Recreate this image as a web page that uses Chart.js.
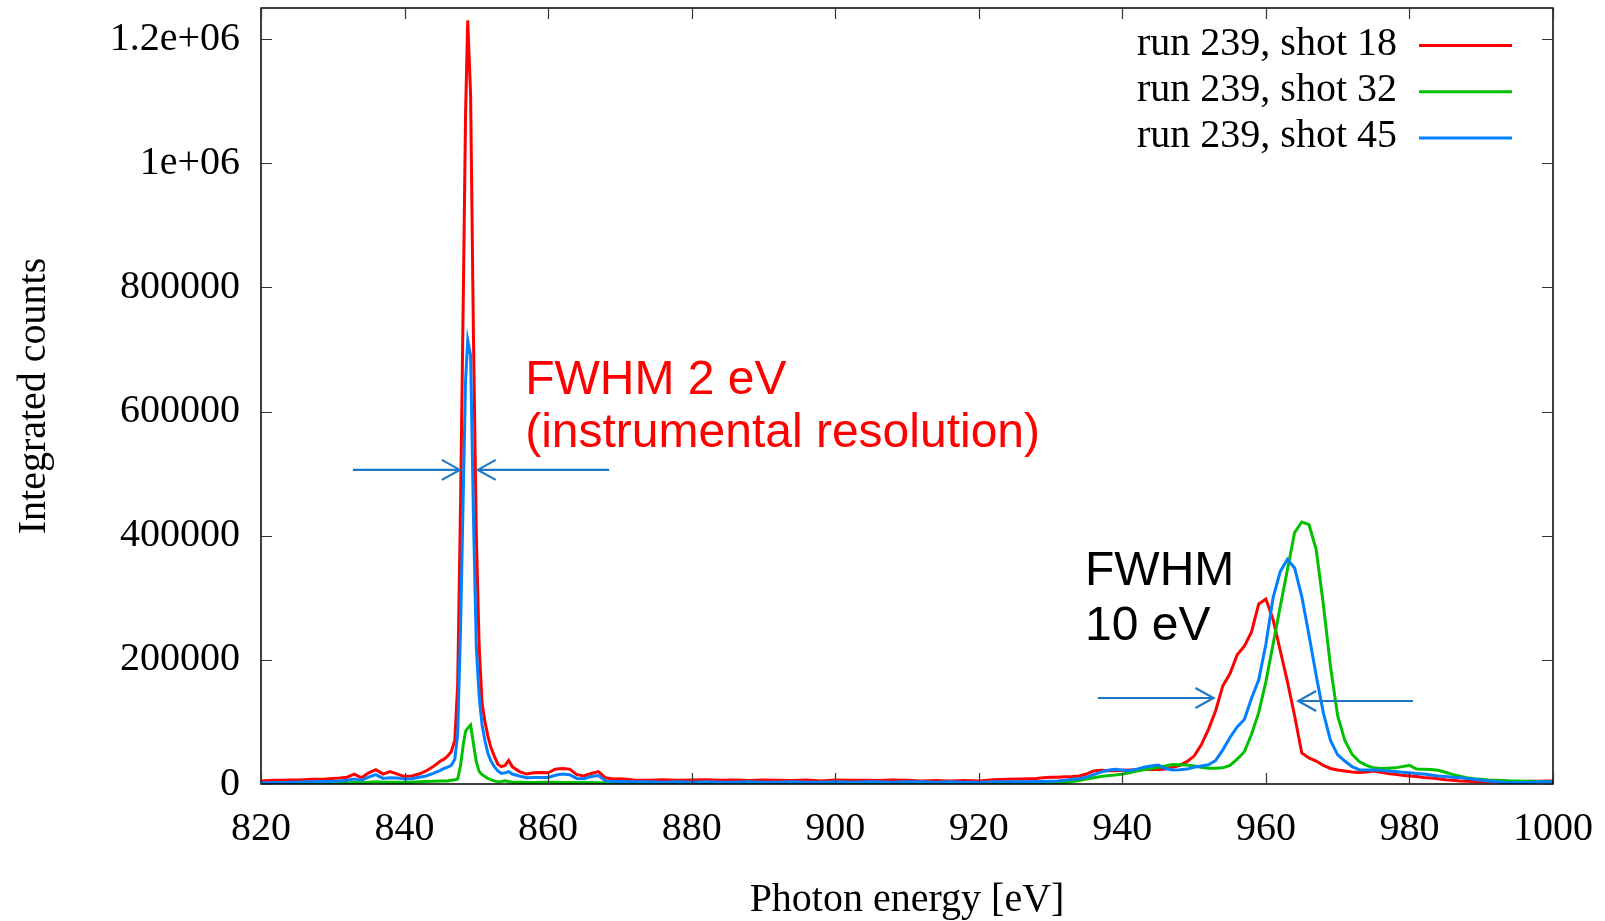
<!DOCTYPE html>
<html><head><meta charset="utf-8">
<script src="https://cdn.jsdelivr.net/npm/chart.js@4.4.1/dist/chart.umd.min.js"></script>
<style>html,body{margin:0;padding:0;background:#fff;overflow:hidden}#wrap{width:1605px;height:921px;position:relative}</style>
</head><body><div id="wrap"><canvas id="c" width="1605" height="921"></canvas></div>
<script>
// ---- data ----
const energy = [
  820,821,822,823,824,825,826,827,828,829,830,831,832,833,834,835,836,837,838,839,840,841,842,843,844,
  845,845.5,846,846.5,847,847.4,847.8,848.2,848.5,848.8,849.2,849.6,850,850.4,850.8,851.2,851.6,852,852.5,853,853.5,854,854.5,855,
  856,857,858,859,860,861,862,863,864,865,866,867,868,869,870,
  872,874,876,878,880,882,884,886,888,890,892,894,896,898,900,902,904,906,908,910,912,914,916,918,920,922,924,926,928,
  929,930,931,932,933,934,935,936,937,938,939,940,941,942,943,944,945,946,947,948,949,950,951,952,953,954,955,956,957,958,959,
  960,961,962,963,964,965,966,967,968,969,970,971,972,973,974,975,976,977,978,979,980,981,982,983,984,985,986,987,988,989,990,
  991,992,993,994,995,996,997,998,999,1000
];
const shot18 = [
  5000,5500,6000,6000,6500,6500,7000,7500,7500,8000,9000,9500,11000,16000,10000,18000,23000,16000,20000,16000,12000,13000,16000,21000,28000,
  37000,40000,45000,52000,70000,160000,450000,800000,1080000,1230000,1110000,720000,400000,220000,130000,100000,78000,60000,45000,32000,28000,30000,38000,28000,
  20000,16000,18000,18500,18000,24000,25000,24000,15000,13000,17000,20000,10000,8000,8500,
  6500,6000,7000,6000,6500,7000,6000,6500,5500,6500,6000,5500,6500,5000,6500,6000,6000,5500,6500,6000,5000,5500,5000,5500,5000,7000,7500,8000,9000,
  10000,10800,11000,11500,12000,13000,16000,21000,22000,21500,21500,22000,22500,23000,23700,23500,23500,24000,27000,30000,36000,45000,63000,88000,118000,158000,178000,208000,222000,245000,290000,
  298000,265000,215000,165000,110000,50000,42000,37000,30000,25000,22500,21000,19500,18500,19500,21000,19000,17000,15500,14000,13000,12000,10500,9500,8500,7000,6000,5000,4500,4000,3700,
  3500,3500,3500,4000,4000,4000,4500,4500,5000,5000
];
const shot32 = [
  500,500,1000,1000,1000,1000,1500,1500,1500,1500,2000,2000,2000,2500,2000,3000,3500,3000,3000,3000,2500,3000,3500,4000,4500,
  5000,5000,5000,6000,7000,8000,30000,65000,85000,90000,95000,65000,35000,20000,15000,12000,9000,7000,5000,3500,4000,5000,4000,3000,
  3000,2500,2500,2700,3000,3000,2500,2500,2500,2500,2500,2000,2000,2000,2000,
  2000,2000,1500,2000,1500,2000,1500,1500,2000,1500,1500,2000,1500,1500,2000,1500,2000,2000,1500,2000,2000,2000,2000,2000,2000,2000,2000,2000,2000,
  2000,2000,2500,3000,4000,5500,8000,10000,12000,13500,14500,16000,18000,21000,23000,25000,27000,29000,31500,31000,30500,29000,27000,25300,25500,26000,30000,40000,52000,80000,115000,
  165000,225000,286000,345000,405000,422000,418000,378000,290000,189000,110000,70000,48000,36000,30000,26000,25000,25500,26000,28000,30000,24000,23700,23500,22000,19000,15500,12500,10000,8500,7500,
  6500,6000,5500,5000,5000,4500,4500,4000,3700,3500
];
const shot45 = [
  2000,2000,2500,2500,3000,3000,3500,3500,4000,4000,4500,5000,6000,8000,6000,11000,15000,9000,10000,9500,8000,8500,11000,13000,17000,
  22000,25000,27000,30000,40000,80000,250000,480000,650000,715000,690000,430000,220000,140000,95000,70000,50000,38000,28000,21000,17000,18000,20000,16000,
  13000,10000,10500,10500,10500,14000,16000,15000,9000,8500,12000,13500,5000,4000,4000,
  3500,3500,3000,3500,3000,3500,3000,3000,3500,3000,3000,3500,3000,3000,3500,3000,3500,3500,3000,3500,3500,3000,3500,3000,3000,3500,3500,3500,4000,
  4000,4500,5000,6000,7500,8500,11000,15000,19000,22000,23700,22500,21500,24000,27000,29000,30600,25000,22500,23000,24000,27000,29000,31000,38000,55000,75000,92000,104000,138000,168000,
  225000,300000,342000,362000,348000,302000,240000,175000,115000,70000,47000,37000,28000,23000,22500,22500,22000,21000,20000,19000,18200,17000,16000,14500,13000,12000,11000,10000,9000,7500,6000,
  5000,4000,3000,2500,2000,2500,3000,3500,3700,3500
];
const seriesLabels = ['run 239, shot 18', 'run 239, shot 32', 'run 239, shot 45'];
const xTickValues = [820, 840, 860, 880, 900, 920, 940, 960, 980, 1000];
const xTickLabels = ['820', '840', '860', '880', '900', '920', '940', '960', '980', '1000'];
const yTickValues = [0, 200000, 400000, 600000, 800000, 1000000, 1200000];
const yTickLabels = ['0', '200000', '400000', '600000', '800000', '1e+06', '1.2e+06'];

// annotations (data units)
const arrowsData = [
  {from: [832.8, 506000], to: [847.7, 506000]},
  {from: [868.5, 506000], to: [850.2, 506000]},
  {from: [936.6, 138500], to: [952.7, 138500]},
  {from: [980.5, 133700], to: [964.5, 133700]}
];
const notes = [
  {text: 'FWHM 2 eV', x: 856.8, y: 628000, color: '#ff0000'},
  {text: '(instrumental resolution)', x: 856.8, y: 543000, color: '#ff0000'},
  {text: 'FWHM', x: 934.8, y: 320500, color: '#000000'},
  {text: '10 eV', x: 934.8, y: 232000, color: '#000000'}
];

const colors = ['#ff0000', '#00c000', '#0080ff'];
const SERIF = '"Liberation Serif", "Times New Roman", serif';
const SANS = '"Liberation Sans", Arial, sans-serif';

const seriesValues = [shot18, shot32, shot45];
const datasets = seriesValues.map((vals, i) => ({
  label: seriesLabels[i],
  data: energy.map((e, k) => ({x: e, y: vals[k]})),
  borderColor: colors[i],
  backgroundColor: colors[i],
  borderWidth: 3,
  pointRadius: 0,
  tension: 0,
  fill: false,
  order: 3 - i
}));

const framePlugin = {
  id: 'frame',
  afterDatasetsDraw(chart) {
    const {ctx, chartArea: a, scales: {x, y}} = chart;
    ctx.save();
    ctx.strokeStyle = '#000';
    ctx.lineWidth = 1.5;
    ctx.strokeRect(a.left, a.top, a.right - a.left, a.bottom - a.top);
    const L = 11;
    ctx.beginPath();
    xTickValues.forEach(v => {
      const p = Math.round(x.getPixelForValue(v)) + 0.5;
      ctx.moveTo(p, a.bottom); ctx.lineTo(p, a.bottom - L);
      ctx.moveTo(p, a.top); ctx.lineTo(p, a.top + L);
    });
    yTickValues.forEach(v => {
      const p = Math.round(y.getPixelForValue(v)) + 0.5;
      ctx.moveTo(a.left, p); ctx.lineTo(a.left + L, p);
      ctx.moveTo(a.right, p); ctx.lineTo(a.right - L, p);
    });
    ctx.lineWidth = 1.2;
    ctx.strokeStyle = '#333';
    ctx.stroke();
    ctx.restore();
  }
};

const annotPlugin = {
  id: 'annot',
  afterDatasetsDraw(chart) {
    const {ctx, scales: {x, y}} = chart;
    ctx.save();
    ctx.strokeStyle = '#1f78c4';
    ctx.lineWidth = 2.2;
    arrowsData.forEach(a => {
      const x0 = x.getPixelForValue(a.from[0]), y0 = y.getPixelForValue(a.from[1]);
      const x1 = x.getPixelForValue(a.to[0]), y1 = y.getPixelForValue(a.to[1]);
      const ang = Math.atan2(y1 - y0, x1 - x0);
      const hl = 18, hw = 10;
      ctx.beginPath();
      ctx.moveTo(x0, y0); ctx.lineTo(x1, y1);
      const bx = x1 - hl * Math.cos(ang), by = y1 - hl * Math.sin(ang);
      ctx.moveTo(bx - hw * Math.sin(ang) , by + hw * Math.cos(ang));
      ctx.lineTo(x1, y1);
      ctx.lineTo(bx + hw * Math.sin(ang), by - hw * Math.cos(ang));
      ctx.stroke();
    });
    ctx.font = '48px ' + SANS;
    ctx.textAlign = 'left';
    ctx.textBaseline = 'alphabetic';
    notes.forEach(n => {
      ctx.fillStyle = n.color;
      ctx.fillText(n.text, x.getPixelForValue(n.x), y.getPixelForValue(n.y));
    });
    ctx.restore();
  }
};

const legendPlugin = {
  id: 'gpLegend',
  afterDatasetsDraw(chart) {
    const {ctx} = chart;
    ctx.save();
    ctx.font = '40px ' + SERIF;
    ctx.textAlign = 'right';
    ctx.textBaseline = 'middle';
    chart.data.datasets.forEach((ds, i) => {
      const yy = 44 + i * 46.3;
      ctx.fillStyle = '#000';
      ctx.fillText(ds.label, 1397, yy);
      ctx.strokeStyle = ds.borderColor;
      ctx.lineWidth = 3;
      ctx.beginPath();
      ctx.moveTo(1419, yy + 1.5); ctx.lineTo(1512, yy + 1.5);
      ctx.stroke();
    });
    ctx.restore();
  }
};

function noPad(s) { s.paddingTop = 0; s.paddingBottom = 0; s.paddingLeft = 0; s.paddingRight = 0; }

new Chart(document.getElementById('c').getContext('2d'), {
  type: 'line',
  data: {datasets},
  options: {
    responsive: false,
    animation: false,
    events: [],
    layout: {padding: {left: 0, right: 52, top: 8, bottom: 0}},
    plugins: {legend: {display: false}, tooltip: {enabled: false}},
    scales: {
      x: {
        type: 'linear', min: 820, max: 1000,
        afterBuildTicks: s => { s.ticks = xTickValues.map(v => ({value: v})); },
        afterFit: s => { s.height = 137; noPad(s); },
        grid: {display: false, drawTicks: false},
        border: {display: false},
        ticks: {font: {family: SERIF, size: 40}, color: '#000', padding: 21, maxRotation: 0, autoSkip: false,
          callback: v => xTickLabels[xTickValues.indexOf(v)]},
        title: {display: true, text: 'Photon energy [eV]', font: {family: SERIF, size: 40}, color: '#000', padding: {top: 0, bottom: -3}}
      },
      y: {
        type: 'linear', min: 0, max: 1250000,
        afterBuildTicks: s => { s.ticks = yTickValues.map(v => ({value: v})); },
        afterFit: s => { s.width = 261; noPad(s); },
        grid: {display: false, drawTicks: false},
        border: {display: false},
        ticks: {font: {family: SERIF, size: 40}, color: '#000', padding: 21, autoSkip: false,
          callback: v => yTickLabels[yTickValues.indexOf(v)]},
        title: {display: true, text: 'Integrated counts', font: {family: SERIF, size: 40}, color: '#000', padding: {top: 10, bottom: 0}}
      }
    }
  },
  plugins: [framePlugin, annotPlugin, legendPlugin]
});
</script>
</body></html>
